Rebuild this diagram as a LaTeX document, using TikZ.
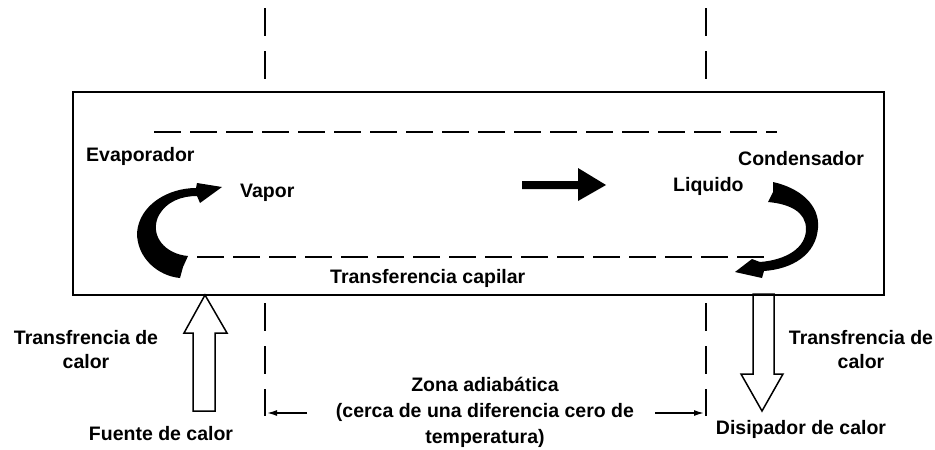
\documentclass[tikz,border=0pt]{standalone}
\usepackage{fontspec}
\setmainfont{Liberation Sans}
\usetikzlibrary{arrows.meta}
\begin{document}
\begin{tikzpicture}[x=1pt,y=-1pt,
  lbl/.style={font=\fontsize{19.5}{24}\selectfont\bfseries, inner sep=0pt},
  pipebox/.style={draw, line width=2pt, inner sep=0pt, minimum width=811pt, minimum height=203pt},
  hdash/.style={line width=2pt, dash pattern=on 27pt off 9pt},
  vdash/.style={line width=2pt, dash pattern=on 28pt off 15pt},
  hollow/.style={draw, fill=white, line width=1.5pt, line join=miter},
  solid/.style={fill=black},
  smallarrow/.style={line width=1.5pt, -{Latex[length=10pt,width=6pt]}}
]
\useasboundingbox (0,0) rectangle (935,450);

% hollow heat arrows
\path[hollow] (193,411) -- (193,333) -- (184,333) -- (205,295) -- (227,333) -- (215,333) -- (215,411) -- cycle;
\path[hollow] (753,294) -- (753,374) -- (741,374) -- (762,411) -- (783,374) -- (774,374) -- (774,294) -- cycle;

% pipe
\node[pipebox, anchor=north west] (pipe) at (72,91) {};

% zone boundaries
\coordinate (zl1) at (265,8);  \coordinate (zl2) at (265,80);
\coordinate (zl3) at (265,303); \coordinate (zl4) at (265,416);
\coordinate (zr1) at (706,8);  \coordinate (zr2) at (706,80);
\coordinate (zr3) at (706,303); \coordinate (zr4) at (706,416);
\draw[vdash] (zl1) -- (zl2);
\draw[vdash] (zl3) -- (zl4);
\draw[vdash] (zr1) -- (zr2);
\draw[vdash] (zr3) -- (zr4);

% wick boundaries
\coordinate (wt1) at (154,132); \coordinate (wt2) at (777,132);
\coordinate (wb1) at (197,257); \coordinate (wb2) at (767,257);
\draw[hdash] (wt1) -- (wt2);
\draw[hdash] (wb1) -- (wb2);

% vapour flow arrow
\path[solid] (522,181) -- (578,181) -- (578,168) -- (606,185) -- (578,201) -- (578,189) -- (522,189) -- cycle;

% evaporator curved arrow
\path[solid] (183,267) -- (188,256)
  .. controls (165,254) and (150,236) .. (158,217)
  .. controls (166,201) and (182,196) .. (197,196)
  -- (200,203) -- (222,187) -- (197,183) -- (196,188)
  .. controls (168,188) and (139,205) .. (137,233)
  .. controls (137,258) and (158,276) .. (180,278) -- cycle;

% condenser curved arrow
\path[solid] (773,182)
  .. controls (800,188) and (820,205) .. (818,228)
  .. controls (816,255) and (792,269) .. (764,271)
  -- (762,278) -- (735,272) -- (752,259) -- (760,262)
  .. controls (786,260) and (806,248) .. (806,229)
  .. controls (806,212) and (790,204) .. (768,202)
  -- (773,192) -- cycle;

% adiabatic zone arrows
\coordinate (al1) at (307,413); \coordinate (al2) at (267,413);
\coordinate (ar1) at (655,413); \coordinate (ar2) at (704,413);
\draw[smallarrow] (al1) -- (al2);
\draw[smallarrow] (ar1) -- (ar2);

% labels
\node[lbl, anchor=base west] (evap) at (86,161) {Evaporador};
\node[lbl, anchor=base west] (vapor) at (240,197) {Vapor};
\node[lbl, anchor=base west] (cond) at (738,165) {Condensador};
\node[lbl, anchor=base west] (liq) at (673,191) {Liquido};
\node[lbl, anchor=base west] (cap) at (330,283) {Transferencia capilar};
\node[lbl, align=center] (tin) at (86,350) {Transfrencia de\\calor};
\node[lbl, align=center] (tout) at (861,350) {Transfrencia de\\calor};
\node[lbl, anchor=base] (src) at (161,440) {Fuente de calor};
\node[lbl, anchor=base] (sink) at (801,434) {Disipador de calor};
\node[lbl, align=center, font=\fontsize{19.5}{26}\selectfont\bfseries] (adia) at (485,412) {Zona adiabática\\(cerca de una diferencia cero de\\temperatura)};
\end{tikzpicture}
\end{document}
